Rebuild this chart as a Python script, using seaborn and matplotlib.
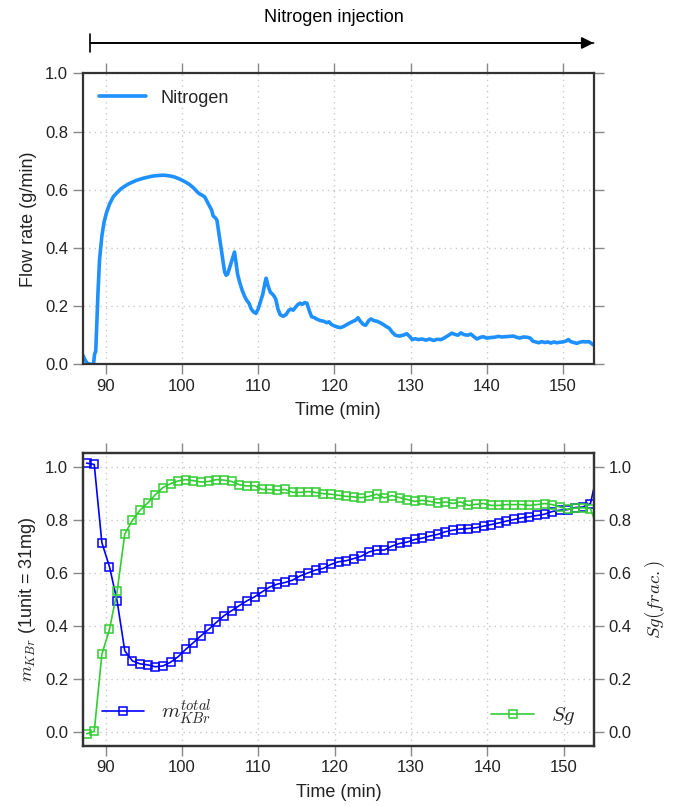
import matplotlib
matplotlib.use("Agg")
import matplotlib.pyplot as plt
import matplotlib.transforms as mtransforms
import seaborn as sns
import numpy as np
import pandas as pd

# ---------------- data ----------------
flow_time = [87.0, 87.3, 87.6, 88.0, 88.4, 88.55, 88.7, 88.85, 89.0, 89.2, 89.5, 89.8, 90.1, 90.5, 91.0, 91.5,
             92.0, 92.5, 93.0, 93.5, 94.0, 94.5, 95.0, 95.5, 96.0, 96.5, 97.0, 97.5, 98.0, 98.5, 99.0, 99.5,
             100.0, 100.5, 101.0, 101.5, 102.0, 102.3, 102.6, 103.0, 103.3, 103.6, 103.9, 104.1, 104.4, 104.6,
             104.8, 105.0, 105.3, 105.6, 105.8, 106.0, 106.3, 106.6, 106.9, 107.1, 107.3, 107.6, 107.9, 108.2,
             108.5, 108.8, 109.1, 109.4, 109.7, 110.0, 110.3, 110.6, 110.9, 111.05, 111.3, 111.6, 112.0, 112.3,
             112.6, 112.9, 113.3, 113.7, 114.0, 114.3, 114.6, 114.9, 115.2, 115.5, 115.8, 116.1, 116.4, 116.7,
             117.0, 117.4, 117.8, 118.2, 118.6, 119.0, 119.3, 119.6, 120.0, 120.4, 120.8, 121.2, 121.6, 122.0,
             122.4, 122.8, 123.1, 123.4, 123.8, 124.1, 124.5, 124.8, 125.2, 125.6, 126.0, 126.4, 126.8, 127.2,
             127.6, 128.0, 128.5, 129.0, 129.5, 129.9, 130.2, 130.6, 131.0, 131.5, 132.0, 132.5, 133.0, 133.5,
             134.0, 134.5, 135.0, 135.4, 135.8, 136.2, 136.6, 137.0, 137.5, 137.9, 138.3, 138.7, 139.1, 139.5,
             140.0, 140.5, 141.0, 141.5, 142.0, 142.5, 143.0, 143.5, 143.9, 144.3, 144.8, 145.3, 145.7, 146.0,
             146.4, 146.8, 147.2, 147.6, 148.0, 148.4, 148.8, 149.2, 149.6, 150.0, 150.4, 150.7, 151.0, 151.4,
             151.8, 152.2, 152.6, 153.0, 153.4, 153.8, 154.0]
flow_rate = [0.032, 0.015, 0.003, 0.0, 0.0, 0.035, 0.045, 0.15, 0.25, 0.36, 0.44, 0.49, 0.52, 0.55, 0.576, 0.59,
             0.603, 0.612, 0.62, 0.626, 0.632, 0.636, 0.64, 0.643, 0.646, 0.648, 0.649, 0.650, 0.649, 0.647, 0.644, 0.639,
             0.633, 0.626, 0.618, 0.607, 0.593, 0.586, 0.582, 0.575, 0.56, 0.545, 0.53, 0.51, 0.503, 0.495,
             0.46, 0.425, 0.37, 0.318, 0.306, 0.31, 0.335, 0.36, 0.386, 0.35, 0.31, 0.28, 0.255, 0.235,
             0.22, 0.21, 0.19, 0.18, 0.175, 0.19, 0.215, 0.24, 0.28, 0.296, 0.27, 0.248, 0.238, 0.225,
             0.19, 0.17, 0.165, 0.172, 0.185, 0.19, 0.186, 0.196, 0.205, 0.21, 0.206, 0.212, 0.21, 0.185,
             0.164, 0.16, 0.154, 0.15, 0.148, 0.143, 0.146, 0.137, 0.132, 0.128, 0.126, 0.13, 0.136, 0.142,
             0.147, 0.152, 0.16, 0.148, 0.137, 0.134, 0.15, 0.156, 0.15, 0.148, 0.143, 0.137, 0.13, 0.124,
             0.11, 0.1, 0.097, 0.1, 0.105, 0.095, 0.085, 0.088, 0.085, 0.087, 0.083, 0.087, 0.082, 0.086,
             0.085, 0.092, 0.1, 0.107, 0.103, 0.1, 0.108, 0.102, 0.1, 0.104, 0.095, 0.087, 0.092, 0.095,
             0.09, 0.092, 0.093, 0.096, 0.094, 0.095, 0.096, 0.097, 0.093, 0.09, 0.094, 0.093, 0.09, 0.08,
             0.077, 0.074, 0.078, 0.075, 0.077, 0.073, 0.077, 0.074, 0.076, 0.077, 0.08, 0.085, 0.078, 0.075,
             0.072, 0.076, 0.078, 0.077, 0.078, 0.07, 0.066]

sample_time = [87.5, 88.5, 89.5, 90.5, 91.5, 92.5, 93.5, 94.5, 95.5, 96.5, 97.5, 98.5, 99.5, 100.5, 101.5,
               102.5, 103.5, 104.5, 105.5, 106.5, 107.5, 108.5, 109.5, 110.5, 111.5, 112.5, 113.5, 114.5,
               115.5, 116.5, 117.5, 118.5, 119.5, 120.5, 121.5, 122.5, 123.5, 124.5, 125.5, 126.5, 127.5,
               128.5, 129.5, 130.5, 131.5, 132.5, 133.5, 134.5, 135.5, 136.5, 137.5, 138.5, 139.5, 140.5,
               141.5, 142.5, 143.5, 144.5, 145.5, 146.5, 147.5, 148.5, 149.5, 150.5, 151.5, 152.5, 153.5, 154.5]
m_kbr = [1.013, 1.008, 0.714, 0.623, 0.494, 0.307, 0.269, 0.258, 0.254, 0.247, 0.25, 0.264, 0.285, 0.313, 0.338,
         0.364, 0.388, 0.414, 0.439, 0.458, 0.477, 0.495, 0.51, 0.529, 0.547, 0.558, 0.564, 0.573,
         0.589, 0.6, 0.611, 0.617, 0.632, 0.642, 0.646, 0.654, 0.663, 0.679, 0.686, 0.686, 0.701,
         0.711, 0.716, 0.726, 0.731, 0.739, 0.745, 0.755, 0.761, 0.765, 0.767, 0.77, 0.776, 0.782,
         0.788, 0.795, 0.801, 0.807, 0.811, 0.816, 0.821, 0.831, 0.836, 0.838, 0.846, 0.848, 0.861, 0.99]
sg = [-0.005, 0.004, 0.294, 0.388, 0.531, 0.746, 0.798, 0.836, 0.863, 0.894, 0.921, 0.936, 0.946, 0.951, 0.947,
      0.942, 0.944, 0.951, 0.949, 0.944, 0.932, 0.927, 0.928, 0.914, 0.914, 0.911, 0.914, 0.903,
      0.903, 0.906, 0.903, 0.898, 0.896, 0.892, 0.888, 0.886, 0.883, 0.888, 0.896, 0.882, 0.891,
      0.883, 0.876, 0.869, 0.873, 0.869, 0.863, 0.867, 0.861, 0.867, 0.854, 0.858, 0.861, 0.854,
      0.854, 0.857, 0.857, 0.857, 0.854, 0.857, 0.861, 0.857, 0.848, 0.839, 0.844, 0.845, 0.842, 0.76]

x_ticks = [90, 100, 110, 120, 130, 140, 150]
y_ticks = [0.0, 0.2, 0.4, 0.6, 0.8, 1.0]

# ---------------- style ----------------
sns.set_style("ticks")
plt.rcParams["font.family"] = ["Liberation Sans", "DejaVu Sans"]
plt.rcParams["mathtext.fontset"] = "cm"

SPINE = "#333333"
TICKC = "#888888"
TXT = "#222222"
TICK_FS = 12
LABEL_FS = 13

fig = plt.figure(figsize=(6.73, 8.06), dpi=100)
ax1 = fig.add_axes([0.123, 0.548, 0.759, 0.361])
ax2 = fig.add_axes([0.123, 0.0748, 0.760, 0.3628])


def style_axes(ax, right=True, top=True):
    for s in ax.spines.values():
        s.set_color(SPINE)
        s.set_linewidth(1.6)
        s.set_visible(True)
    ax.tick_params(direction="out", length=7, width=1, color=TICKC, labelcolor=TXT,
                   labelsize=TICK_FS, top=top, right=right, pad=3.5)
    ax.grid(True, linestyle=(0, (1, 3)), color="#c8c8c8", linewidth=1)


# ---------------- top panel ----------------
df_flow = pd.DataFrame({"time": flow_time, "flow": flow_rate})
sns.lineplot(data=df_flow, x="time", y="flow", ax=ax1, color="#1E90FF", linewidth=2.6,
             sort=False, label="Nitrogen")
ax1.set_xlim(87, 154)
ax1.set_ylim(0.0, 1.0)
ax1.set_xticks(x_ticks)
ax1.set_yticks(y_ticks)
ax1.set_yticklabels([f"{v:.1f}" for v in y_ticks])
style_axes(ax1)
ax1.set_xlabel("Time (min)", fontsize=LABEL_FS, color=TXT, labelpad=6)
ax1.set_ylabel("Flow rate (g/min)", fontsize=LABEL_FS, color=TXT, labelpad=6)
ax1.legend(loc="upper left", frameon=False, fontsize=13, handlelength=2.6,
           borderaxespad=0.5)

# arrow above the top panel
trans = mtransforms.blended_transform_factory(ax1.transData, fig.transFigure)
y_arrow = 1 - 43 / 806
ax1.annotate("", xy=(154, y_arrow), xytext=(88, y_arrow), xycoords=trans, textcoords=trans,
             arrowprops=dict(arrowstyle="-|>", color="black", lw=1.2, mutation_scale=18,
                             shrinkA=0, shrinkB=0), annotation_clip=False)
ax1.annotate("", xy=(154, y_arrow), xytext=(88, y_arrow), xycoords=trans, textcoords=trans,
             arrowprops=dict(arrowstyle="|-|, widthA=0.35, widthB=0.0", color="black", lw=1.2,
                             mutation_scale=18, shrinkA=0, shrinkB=0), annotation_clip=False)
ax1.text(120, 1 - 18 / 806, "Nitrogen injection", transform=trans, ha="center", va="center",
         fontsize=13, color="black")

# ---------------- bottom panel ----------------
df_s = pd.DataFrame({"time": sample_time, "m": m_kbr, "sg": sg})
sns.lineplot(data=df_s, x="time", y="m", ax=ax2, color="#0000FF", linewidth=1.2, marker="s",
             markersize=5.5, markerfacecolor="none", markeredgecolor="#0000FF", markeredgewidth=1.1,
             sort=False, label=r"$m_{KBr}^{total}$")
ax3 = ax2.twinx()
sns.lineplot(data=df_s, x="time", y="sg", ax=ax3, color="#32CD32", linewidth=1.2, marker="s",
             markersize=5.5, markerfacecolor="none", markeredgecolor="#32CD32", markeredgewidth=1.1,
             sort=False, label=r"$Sg$")
ax2.set_xlim(87, 154)
for a in (ax2, ax3):
    a.set_ylim(-0.05, 1.05)
    a.set_yticks(y_ticks)
    a.set_yticklabels([f"{v:.1f}" for v in y_ticks])
ax2.set_xticks(x_ticks)
style_axes(ax2, right=False, top=True)
style_axes(ax3, right=True, top=False)
ax3.grid(False)
ax3.tick_params(left=False, labelleft=False)
ax2.set_xlabel("Time (min)", fontsize=LABEL_FS, color=TXT, labelpad=6)
ax2.set_ylabel(r"$m_{KBr}$ (1unit = 31mg)", fontsize=LABEL_FS, color=TXT, labelpad=5)
ax3.set_ylabel(r"$Sg(frac.)$", fontsize=13.5, color=TXT, labelpad=8)

ax2.legend(loc="lower left", frameon=False, fontsize=15, handlelength=2.05,
           bbox_to_anchor=(0.0, 0.0))
ax3.legend(loc="lower right", frameon=False, fontsize=15, handlelength=2.05,
           bbox_to_anchor=(1.0, 0.0))

fig.savefig("out.png", dpi=100)
